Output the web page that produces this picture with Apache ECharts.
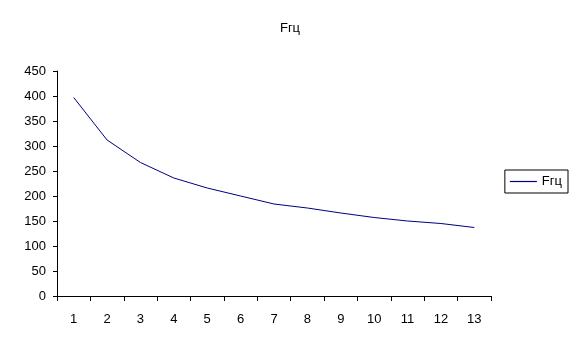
<!DOCTYPE html>
<html>
<head>
<meta charset="utf-8">
<script src="https://cdn.jsdelivr.net/npm/echarts@6/dist/echarts.min.js"></script>
<style>
  html, body { margin: 0; padding: 0; background: #fff; }
  #chart { width: 580px; height: 350px; }
</style>
</head>
<body>
<div id="chart"></div>
<script>
const categories = ['1', '2', '3', '4', '5', '6', '7', '8', '9', '10', '11', '12', '13'];
const values = [397, 312, 267, 236, 216, 200, 184, 176, 166, 157, 150, 145, 137];
const seriesName = 'Fгц';

const chart = echarts.init(document.getElementById('chart'));
const font = 'Liberation Sans, Arial, sans-serif';

chart.setOption({
    backgroundColor: '#fff',
    animation: false,
    title: {
        text: seriesName,
        left: 'center',
        top: 17,
        textStyle: { fontFamily: font, fontSize: 13, fontWeight: 'normal', color: '#000' }
    },
    legend: {
        data: [seriesName],
        right: 12,
        top: 170,
        orient: 'vertical',
        borderColor: '#000',
        borderWidth: 1,
        padding: [5, 6, 5, 5],
        itemWidth: 27,
        itemHeight: 12,
        itemGap: 0,
        textStyle: { fontFamily: font, fontSize: 13, color: '#000' },
        icon: 'path://M0,0 L27,0 L27,1.2 L0,1.2 Z'
    },
    grid: { left: 57, right: 89, top: 71, bottom: 54 },
    xAxis: {
        type: 'category',
        data: categories,
        boundaryGap: true,
        axisLine: { lineStyle: { color: '#000', width: 1 } },
        axisTick: { show: true, length: 5, lineStyle: { color: '#000' } },
        axisLabel: { fontFamily: font, fontSize: 13, color: '#000', margin: 17 },
        splitLine: { show: false }
    },
    yAxis: {
        type: 'value',
        min: 0,
        max: 450,
        interval: 50,
        axisLine: { show: true, lineStyle: { color: '#000', width: 1 } },
        axisTick: { show: true, length: 4, lineStyle: { color: '#000' } },
        axisLabel: { fontFamily: font, fontSize: 13, color: '#000', margin: 11 },
        splitLine: { show: false }
    },
    series: [{
        name: seriesName,
        type: 'line',
        data: values,
        symbol: 'none',
        lineStyle: { color: '#000080', width: 1 },
        itemStyle: { color: '#000080' }
    }]
});
</script>
</body>
</html>
